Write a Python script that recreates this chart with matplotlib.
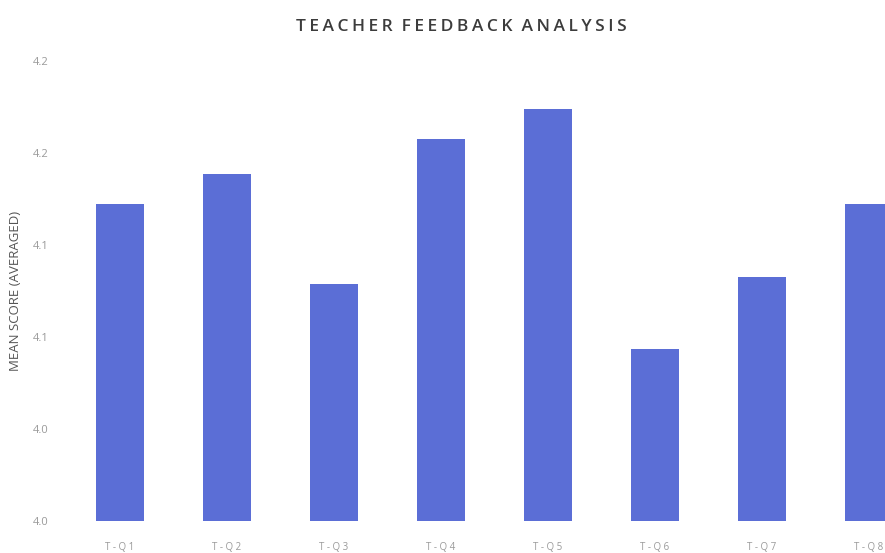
import matplotlib.pyplot as plt
import numpy as np

# данные
questions = ['T-Q1', 'T-Q2', 'T-Q3', 'T-Q4', 'T-Q5', 'T-Q6', 'T-Q7', 'T-Q8']
mean_scores = [4.138, 4.151, 4.103, 4.166, 4.179, 4.075, 4.106, 4.138]
y_ticks = [4.00, 4.04, 4.08, 4.12, 4.16, 4.20]

plt.rcParams['font.family'] = ['Open Sans', 'DejaVu Sans']

fig = plt.figure(figsize=(8.85, 5.53), dpi=100)
# область графика шире картинки: справа обрезана, как в оригинале
ax = fig.add_axes([66.5 / 885, 32 / 553, 856 / 885, 460 / 553])

x = np.arange(len(questions))
ax.bar(x, mean_scores, width=0.44, color='#5B6ED6')

ax.set_xlim(-0.5, len(questions) - 0.5)
ax.set_ylim(4.0, 4.2)
ax.set_yticks(y_ticks)
ax.set_yticklabels([f'{v:.1f}' for v in y_ticks])
ax.set_xticks(x)
ax.set_xticklabels([q.replace('-', ' - ').replace('Q', 'Q ') for q in questions])

ax.tick_params(axis='both', length=0, labelcolor='#9a9a9a')
ax.tick_params(axis='y', pad=13, labelsize=8)
ax.tick_params(axis='x', pad=15, labelsize=7)
for s in ax.spines.values():
    s.set_visible(False)

ax.set_ylabel('MEAN SCORE (AVERAGED)', fontsize=9.5, color='#555555', labelpad=8)

# заголовок с разрядкой
title = '\u2009'.join('TEACHER FEEDBACK ANALYSIS').replace('\u2009 \u2009', '  ')
fig.text(0.521, 0.952, title, ha='center', va='center',
         fontsize=12.5, fontweight='semibold', color='#3c3c3c')

fig.savefig('out.png', dpi=100)
